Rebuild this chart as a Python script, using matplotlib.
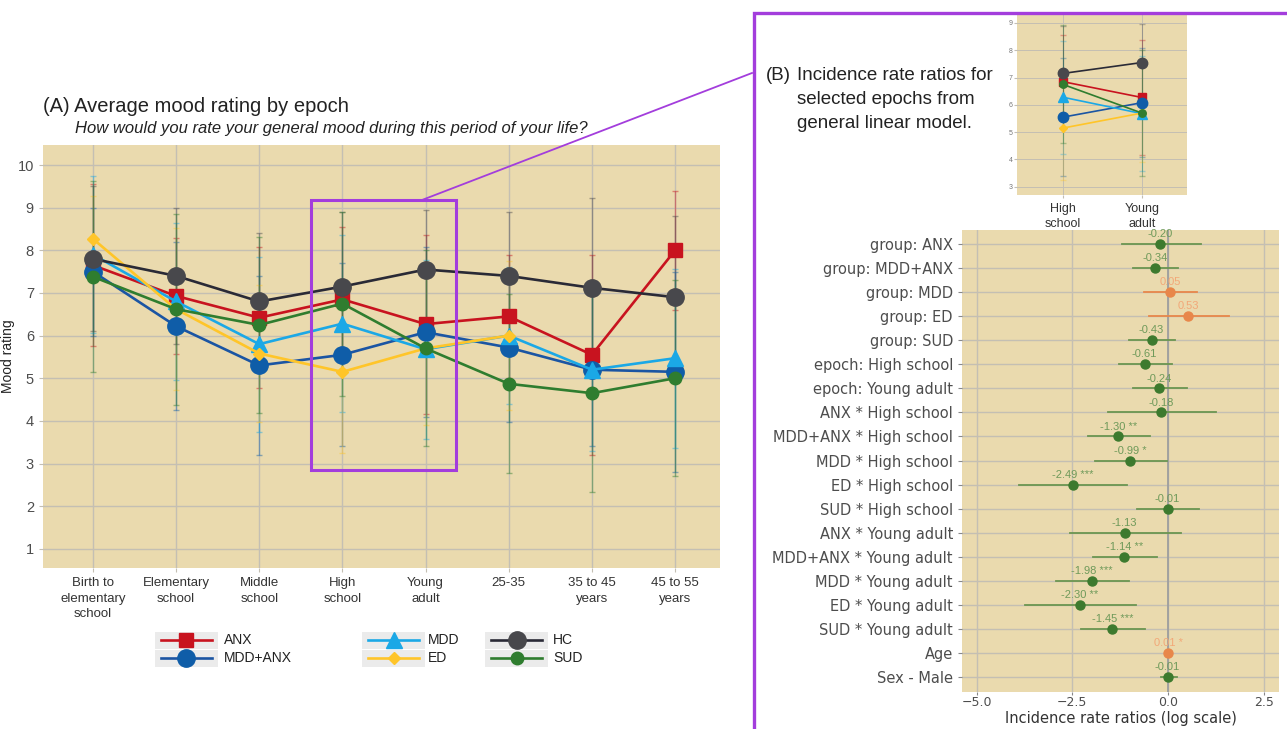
import numpy as np
import matplotlib.pyplot as plt
from matplotlib.lines import Line2D
from matplotlib.patches import Rectangle

plt.rcParams['font.family'] = ['Liberation Sans', 'DejaVu Sans']

# ---- mood ratings by epoch (mean, sd) ----
epochs = ["Birth to\nelementary\nschool", "Elementary\nschool", "Middle\nschool",
          "High\nschool", "Young\nadult", "25-35", "35 to 45\nyears", "45 to 55\nyears"]

anx_mean = [7.65, 6.93, 6.42, 6.85, 6.27, 6.45, 5.55, 8.00]
anx_sd = [1.90, 1.35, 1.65, 1.70, 2.10, 1.45, 2.35, 1.40]
mddanx_mean = [7.50, 6.22, 5.30, 5.55, 6.08, 5.72, 5.20, 5.15]
mddanx_sd = [1.50, 1.97, 2.10, 2.15, 2.00, 1.75, 1.80, 2.35]
mdd_mean = [7.90, 6.80, 5.80, 6.28, 5.68, 6.00, 5.20, 5.47]
mdd_sd = [1.85, 1.85, 2.05, 2.07, 2.10, 1.60, 1.90, 2.10]
ed_mean = [8.27, 6.62, 5.58, 5.15, 5.70, 6.00, np.nan, np.nan]
ed_sd = [1.00, 1.90, 1.60, 1.90, 1.80, 1.75, np.nan, np.nan]
hc_mean = [7.80, 7.40, 6.80, 7.15, 7.55, 7.40, 7.12, 6.90]
hc_sd = [1.70, 1.60, 1.60, 1.75, 1.40, 1.50, 2.10, 1.90]
sud_mean = [7.38, 6.62, 6.25, 6.75, 5.70, 4.87, 4.65, 5.00]
sud_sd = [2.24, 2.24, 2.06, 2.16, 2.30, 2.10, 2.32, 2.30]

group_names = ["ANX", "MDD+ANX", "MDD", "ED", "HC", "SUD"]

# ---- model coefficients (log incidence rate ratios) ----
terms = ["group: ANX", "group: MDD+ANX", "group: MDD", "group: ED", "group: SUD",
         "epoch: High school", "epoch: Young adult", "ANX * High school",
         "MDD+ANX * High school", "MDD * High school", "ED * High school",
         "SUD * High school", "ANX * Young adult", "MDD+ANX * Young adult",
         "MDD * Young adult", "ED * Young adult", "SUD * Young adult", "Age", "Sex - Male"]
est = [-0.20, -0.34, 0.05, 0.53, -0.43, -0.61, -0.24, -0.18, -1.30, -0.99, -2.49,
       -0.01, -1.13, -1.14, -1.98, -2.30, -1.45, 0.01, -0.01]
ci_low = [-1.20, -0.92, -0.62, -0.49, -1.01, -1.27, -0.92, -1.56, -2.10, -1.90, -3.89,
          -0.81, -2.56, -1.95, -2.92, -3.73, -2.27, -0.02, -0.18]
ci_high = [0.86, 0.27, 0.75, 1.60, 0.19, 0.10, 0.49, 1.25, -0.48, -0.03, -1.08,
           0.81, 0.33, -0.29, -1.01, -0.84, -0.60, 0.04, 0.23]
stars = ["", "", "", "", "", "", "", "", "**", "*", "***", "", "", "**", "***", "**",
         "***", "*", ""]

bg = '#EADAAE'
grid_c = '#C4BFB3'
purple = '#A33DDC'

means = [anx_mean, mddanx_mean, mdd_mean, ed_mean, hc_mean, sud_mean]
sds = [anx_sd, mddanx_sd, mdd_sd, ed_sd, hc_sd, sud_sd]
styles = [
    dict(color='#C8131F', lc='#C8131F', marker='s', ms=9.5),
    dict(color='#0F5DA8', lc='#1B55A3', marker='o', ms=12.5),
    dict(color='#1BA8E6', lc='#1BA8E6', marker='^', ms=11),
    dict(color='#FFC529', lc='#FFC529', marker='D', ms=6.5),
    dict(color='#48484C', lc='#2A2A36', marker='o', ms=12.5),
    dict(color='#2F7D2F', lc='#2F7D2F', marker='o', ms=9),
]

fig = plt.figure(figsize=(12.87, 7.29), dpi=100)

# ---------------- panel A ----------------
ax = fig.add_axes([43/1287, 1-568/729, 677/1287, 423/729])
ax.set_facecolor(bg)
x = np.arange(len(epochs))
for m, s, st in zip(means, sds, styles):
    ax.errorbar(x, m, yerr=s, fmt='none', ecolor=st['color'], alpha=0.45,
                elinewidth=1, capsize=2.5, zorder=2)
for m, st in zip(means, styles):
    ax.plot(x, m, color=st['lc'], lw=1.9, marker=st['marker'], ms=st['ms'],
            mfc=st['color'], mec=st['color'], zorder=3)
ax.set_xlim(-0.6, 7.54)
ax.set_ylim(0.55, 10.47)
ax.set_xticks(x)
ax.set_xticklabels(epochs, fontsize=9.5, color='#333333', linespacing=1.4)
ax.set_yticks(range(1, 11))
ax.tick_params(axis='y', labelsize=10.5, labelcolor='#4D4D4D', length=3, color=grid_c)
ax.tick_params(axis='x', length=3, color=grid_c)
ax.grid(True, color=grid_c, lw=1)
ax.set_axisbelow(True)
for sp in ax.spines.values():
    sp.set_visible(False)
ax.set_ylabel("Mood rating", fontsize=10, color='#222222')
ax.yaxis.set_label_coords(-0.041, 0.5)

# zoom frame around the two epochs analysed in panel B
ax.add_patch(Rectangle((2.62, 2.85), 1.75, 6.33, fill=False, ec=purple, lw=2.2, zorder=5))

fig.text(43/1287, 1-106/729, "(A) Average mood rating by epoch", fontsize=14.5,
         color='#222222', va='center')
fig.text(75/1287, 1-128/729,
         "How would you rate your general mood during this period of your life?",
         fontsize=12, style='italic', color='#222222', va='center')

# legend keys
legend_cols = [(155, 224), (362, 428), (485, 553)]
legend_rows = [640, 658]
for i, (name, st) in enumerate(zip(group_names, styles)):
    col = [0, 0, 1, 1, 2, 2][i]
    row = i % 2
    kx, tx = legend_cols[col]
    ky = 1 - legend_rows[row]/729
    fig.add_artist(Rectangle((kx/1287, ky - 8.5/729), 63/1287, 17/729,
                             transform=fig.transFigure, fc='#EBEBEB', ec='none'))
    fig.add_artist(Line2D([(kx+6)/1287, (kx+57)/1287], [ky, ky], transform=fig.transFigure,
                          color=st['lc'], lw=1.9))
    fig.add_artist(Line2D([(kx+31.5)/1287], [ky], transform=fig.transFigure,
                          marker=st['marker'], ms=st['ms'], mfc=st['color'],
                          mec=st['color'], lw=0))
    fig.text(tx/1287, ky, name, fontsize=10, color='#222222', va='center')

# connector from the zoom frame to panel B
fig.add_artist(Line2D([422/1287, 752/1287], [1-200/729, 1-73/729],
                      transform=fig.transFigure, color=purple, lw=1.3))
fig.add_artist(Rectangle((754/1287, -0.1), 1.0, 1.1 - 13/729, transform=fig.transFigure,
                         fill=False, ec=purple, lw=2.4))

# ---------------- panel B ----------------
fig.text(766/1287, 1-75/729, "(B)", fontsize=13.5, color='#222222', va='center')
for k, line in enumerate(["Incidence rate ratios for", "selected epochs from",
                          "general linear model."]):
    fig.text(797/1287, 1-(75+24*k)/729, line, fontsize=13.5, color='#222222', va='center')

# inset: high school vs young adult
ins = fig.add_axes([1017/1287, 1-195/729, 170/1287, 180/729])
ins.set_facecolor(bg)
xi = np.array([0, 1])
for m, s, st in zip(means, sds, styles):
    ins.errorbar(xi, m[3:5], yerr=s[3:5], fmt='none', ecolor=st['color'], alpha=0.35,
                 elinewidth=0.8, capsize=2, zorder=2)
for m, st in zip(means, styles):
    ins.plot(xi, m[3:5], color=st['lc'], lw=1.2, marker=st['marker'], ms=st['ms']*0.6,
             mfc=st['color'], mec=st['color'], zorder=3)
ins.set_xlim(-0.58, 1.57)
ins.set_ylim(2.7, 9.29)
ins.set_xticks(xi)
ins.set_xticklabels(["High\nschool", "Young\nadult"], fontsize=9, color='#333333',
                    linespacing=1.35)
ins.set_yticks(range(3, 10))
ins.tick_params(axis='y', labelsize=5, labelcolor='#777777', length=2, color=grid_c, pad=1)
ins.tick_params(axis='x', length=2, color=grid_c)
ins.grid(True, color=grid_c, lw=0.7)
ins.set_axisbelow(True)
for sp in ins.spines.values():
    sp.set_visible(False)

# forest plot of model terms
fp = fig.add_axes([962/1287, 1-692/729, 317/1287, 462/729])
fp.set_facecolor(bg)
rows = np.arange(len(terms))
green, green_txt = '#3D7A2E', '#6F9A5A'
orange, orange_txt = '#E8874A', '#F2A878'
for r in rows:
    pos = est[r] > 0
    c = orange if pos else green
    ct = orange_txt if pos else green_txt
    fp.plot([ci_low[r], ci_high[r]], [r, r], color='#6B9550' if not pos else c,
            lw=1.3, zorder=3)
    fp.plot(est[r], r, 'o', color=c, ms=6.5, zorder=4)
    lab = f"{est[r]:.2f}" + (" " + stars[r] if stars[r] else "")
    fp.text(est[r], r - 0.2, lab, fontsize=8, color=ct, ha='center', va='bottom',
            zorder=5)
fp.axvline(0, color='#9E9E9E', lw=1.3, zorder=2)
fp.set_xlim(-5.38, 2.9)
fp.set_ylim(len(terms) - 1 + 0.62, -0.58)
fp.set_yticks(rows)
fp.set_yticklabels(terms, fontsize=10.5, color='#4D4D4D', family='DejaVu Sans')
fp.set_xticks([-5.0, -2.5, 0.0, 2.5])
fp.set_xticklabels(["\u22125.0", "\u22122.5", "0.0", "2.5"], fontsize=9,
                   color='#4D4D4D', family='DejaVu Sans')
fp.tick_params(axis='y', length=3, color='#888888')
fp.tick_params(axis='x', length=2, pad=1, color='#888888')
fp.grid(True, color=grid_c, lw=1)
fp.set_axisbelow(True)
for sp in fp.spines.values():
    sp.set_visible(False)
fp.set_xlabel("Incidence rate ratios (log scale)", fontsize=10.5, color='#333333',
              family='DejaVu Sans')
fp.xaxis.set_label_coords(0.5, -0.041)

fig.savefig("out.png", dpi=100)
